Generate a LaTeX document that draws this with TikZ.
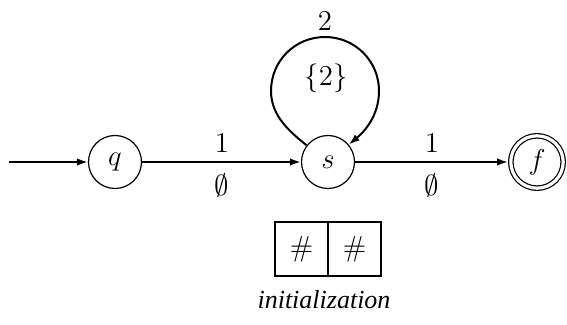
\documentclass[tikz,border=0pt]{standalone}
\usepackage[no-math]{fontspec}
\newfontfamily\timesfont{Liberation Serif}
\usetikzlibrary{arrows.meta}
\begin{document}
\begin{tikzpicture}[x=0.5pt,y=-0.5pt,
  mfont/.style={font=\fontsize{14.4}{17}\selectfont},
  state/.style={circle, draw, line width=0.6pt, minimum size=26.5pt, inner sep=0pt, mfont},
  accept/.style={state, minimum size=26.2pt, double, double distance=1.6pt, outer sep=1.4pt},
  edge/.style={line width=1pt, -{Latex[length=5.5pt,width=3.8pt]}},
  lbl/.style={mfont, inner sep=0pt},
  cell/.style={draw, line width=1pt, minimum width=26.5pt, minimum height=27pt, inner sep=0pt, outer sep=0pt, mfont}
]
\useasboundingbox (0,0) rectangle (567,325);

\node[state] (q) at (115,162) {$q$};
\node[state] (s) at (328,162) {$s$};
\node[accept] (f) at (537,162) {$f$};
\coordinate (init) at (9,162);

\draw[edge] (init) -- (q);
\draw[edge] (q) -- (s);
\draw[edge] (s) -- (f);

\draw[edge] (s.142) .. controls (290,132) and (271,116) .. (271,91)
  .. controls (271,61) and (295,37) .. (325,37)
  .. controls (355,37) and (379,61) .. (379,91)
  .. controls (379,116) and (364,132) .. (s.40);

\node[lbl] (l1) at (222,143) {$1$};
\node[lbl] (l2) at (222,186) {$\emptyset$};
\node[lbl] (l3) at (432,143) {$1$};
\node[lbl] (l4) at (432,186) {$\emptyset$};
\node[lbl] (l5) at (325,21) {$2$};
\node[lbl] (l6) at (326,78) {$\{2\}$};

\node[cell] (c1) at (301.5,249) {$\#$};
\node[cell] (c2) at (354.5,249) {$\#$};

\node[font=\timesfont\itshape\fontsize{13}{15}\selectfont] (cap) at (324,300) {initialization};
\end{tikzpicture}
\end{document}
